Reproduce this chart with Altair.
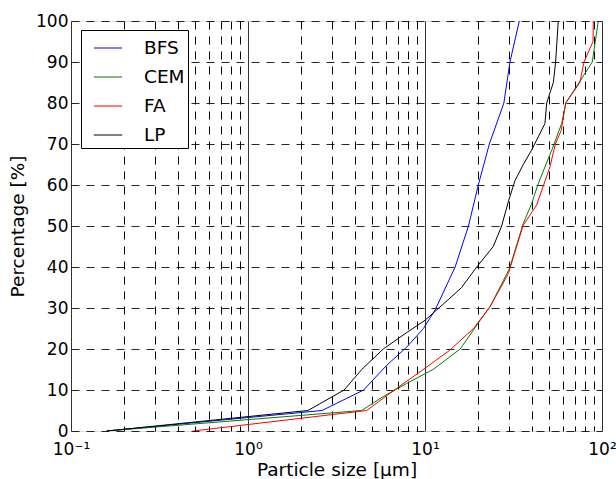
import altair as alt
import pandas as pd

# ---- data ----
bfs_x = [0.159, 2.62, 4.5, 6.07, 7.9, 9.8, 11.4, 14.8, 17.6, 20.0, 23.1, 27.9, 30.2, 34.1]
bfs_y = [0, 5, 10, 16, 20.5, 25, 29.5, 40, 50, 60, 70, 80, 90, 100]

cem_x = [0.159, 4.39, 5.81, 7.88, 11.1, 15.8, 20.5, 23.3, 30.0, 35.9, 40.0, 43.6, 52.0, 59.2, 62.4, 73.5, 88.1, 95.3]
cem_y = [0, 5, 8.4, 11.6, 15, 20, 27, 30.3, 39.6, 50.6, 55.4, 60.3, 68.5, 75, 80, 84.7, 90, 100]

fa_x = [0.49, 4.68, 6.92, 10.0, 13.8, 18.8, 23.3, 29.6, 31.5, 35.9, 42.7, 50.8, 54.5, 58.8, 62.4, 75.0, 79.1, 89.0, 89.3]
fa_y = [0, 5, 10.4, 15.3, 19.7, 25, 30.3, 38.4, 42.3, 50.2, 55.1, 64.4, 70, 73.3, 80, 85, 90, 95, 100]

lp_x = [0.159, 2.18, 3.49, 4.39, 5.81, 7.88, 10.0, 13.5, 16.1, 19.6, 24.3, 27.1, 29.6, 32.2, 35.9, 40.0, 47.6, 48.7, 53.1, 54.7, 56.6]
lp_y = [0, 5, 10, 15, 20, 24, 27, 32, 35, 40, 45, 50, 56, 61, 65, 68.5, 75, 80, 85, 90, 100]

series_names = ["BFS", "CEM", "FA", "LP"]
series_colors = ["#0000ff", "#008000", "#ff0000", "#000000"]

x_tick_values = [0.1, 0.2, 0.3, 0.4, 0.5, 0.6, 0.7, 0.8, 0.9,
                 1, 2, 3, 4, 5, 6, 7, 8, 9,
                 10, 20, 30, 40, 50, 60, 70, 80, 90, 100]
x_major_values = [0.1, 1, 10, 100]
x_major_labels = ["10⁻¹", "10⁰", "10¹", "10²"]
y_tick_values = [0, 10, 20, 30, 40, 50, 60, 70, 80, 90, 100]

rows = []
for name, xs, ys in zip(series_names, [bfs_x, cem_x, fa_x, lp_x], [bfs_y, cem_y, fa_y, lp_y]):
    for i, (xv, yv) in enumerate(zip(xs, ys)):
        rows.append({"series": name, "size": xv, "pct": yv, "idx": i})
df = pd.DataFrame(rows)

label_expr = " : ".join(
    f"datum.value == {v} ? '{l}'" for v, l in zip(x_major_values, x_major_labels)
) + " : ''"
decade_test = "abs(log(datum.value)/LN10 - round(log(datum.value)/LN10)) < 0.001"

FONT = "DejaVu Sans"

chart = alt.Chart(df).mark_line(strokeWidth=1, clip=True).encode(
    x=alt.X("size:Q",
            scale=alt.Scale(type="log", domain=[0.1, 100], nice=False),
            axis=alt.Axis(values=x_tick_values, labelExpr=label_expr,
                          title="Particle size [μm]",
                          labelOverlap=False, labelFlush=False,
                          ticks=False, domain=False,
                          labelFontSize=17, labelPadding=10,
                          titleFontSize=18.5, titlePadding=3,
                          titleFontWeight="normal",
                          labelFont=FONT, titleFont=FONT,
                          labelColor="black", titleColor="black",
                          grid=True,
                          gridColor={"condition": {"test": decade_test, "value": "#333333"}, "value": "#000000"},
                          gridDash={"condition": {"test": decade_test, "value": []}, "value": [8, 7]},
                          gridWidth=1, gridOpacity=1)),
    y=alt.Y("pct:Q",
            scale=alt.Scale(domain=[0, 100], nice=False),
            axis=alt.Axis(values=y_tick_values, title="Percentage [%]",
                          ticks=False, domain=False,
                          labelFontSize=17, labelPadding=3,
                          titleFontSize=18.5, titlePadding=8,
                          titleFontWeight="normal",
                          labelFont=FONT, titleFont=FONT,
                          labelColor="black", titleColor="black",
                          grid=True, gridColor="#000000", gridDash=[8, 7],
                          gridWidth=1, gridOpacity=0.85)),
    color=alt.Color("series:N",
                    scale=alt.Scale(domain=series_names, range=series_colors),
                    legend=alt.Legend(title=None, orient="none", legendX=10, legendY=9,
                                      fillColor="white", strokeColor="black",
                                      padding=3, symbolOffset=9,
                                      symbolType="stroke", symbolSize=800,
                                      symbolStrokeWidth=1, labelFontSize=18.5,
                                      labelFont=FONT, labelColor="black",
                                      labelOffset=21, rowPadding=4,
                                      cornerRadius=0)),
    order=alt.Order("idx:Q"),
).properties(
    width=531, height=410,
    autosize=alt.AutoSizeParams(type="none"),
    padding={"left": 71, "top": 21, "right": 14, "bottom": 48},
).configure_view(
    stroke="black", strokeWidth=1
).configure(background="white")

chart.save("out.html", embed_options={"renderer": "svg", "actions": False})
